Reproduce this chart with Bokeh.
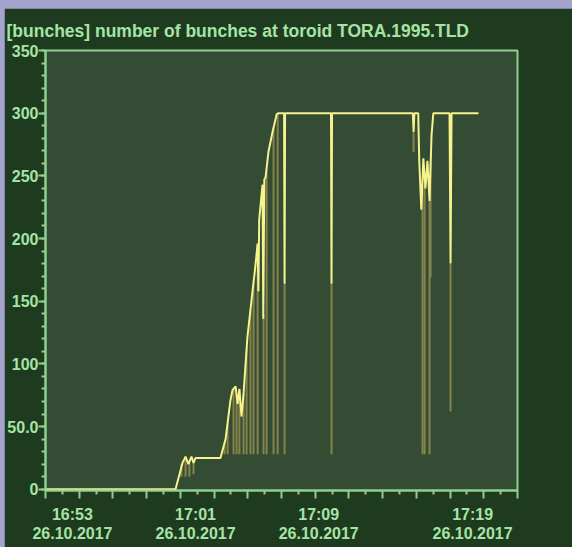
import numpy as np
from bokeh.plotting import figure
from bokeh.models import Range1d, FixedTicker, LinearAxis, Title, CustomJSTickFormatter
from bokeh.layouts import column
from bokeh.embed import file_html
from bokeh.resources import INLINE

# ---------------- data ----------------
line_times = ["16:51:15", "16:59:42", "17:00:09", "17:00:21", "17:00:32", "17:00:44",
              "17:00:52", "17:01:00", "17:02:37", "17:02:57", "17:03:16", "17:03:24",
              "17:03:36", "17:03:44", "17:03:51", "17:03:59", "17:04:07", "17:04:22",
              "17:04:42", "17:04:50", "17:05:02", "17:05:05", "17:05:08", "17:05:21",
              "17:05:24", "17:05:28", "17:05:33", "17:05:44", "17:06:00", "17:06:16",
              "17:06:23", "17:06:45", "17:06:47", "17:06:49", "17:09:48", "17:09:50",
              "17:09:52", "17:15:07", "17:15:10", "17:15:13", "17:15:28", "17:15:32",
              "17:15:40", "17:15:48", "17:15:56", "17:16:04", "17:16:12", "17:16:20",
              "17:16:27", "17:17:30", "17:17:34", "17:17:38", "17:19:23"]
line_values = [0, 0, 21, 26, 20, 26,
               21, 25, 25, 40, 71, 79,
               82, 68, 80, 58, 76, 121,
               158, 172, 196, 158, 215, 243,
               136, 247, 249, 269, 285, 299,
               300, 300, 164, 300, 300, 164,
               300, 300, 285, 300, 300, 262,
               223, 264, 240, 262, 230, 283,
               300, 300, 180, 300, 300]

spike_times = ["17:00:05", "17:00:21", "17:00:36", "17:00:52", "17:02:53", "17:03:05",
               "17:03:28", "17:03:40", "17:03:51", "17:04:07", "17:04:19", "17:04:34",
               "17:04:46", "17:05:02", "17:05:25", "17:05:37", "17:06:04", "17:06:20",
               "17:06:47", "17:09:50", "17:15:10", "17:15:45", "17:15:53", "17:16:12",
               "17:16:16", "17:17:34"]
spike_low = [10, 10, 10, 12, 28, 28,
             28, 28, 28, 28, 28, 28,
             28, 28, 28, 28, 28, 28,
             28, 28, 269, 28, 28, 28,
             169, 62]
spike_high = [20, 26, 22, 21, 37, 52,
              80, 76, 80, 76, 112, 143,
              165, 196, 140, 255, 288, 300,
              164, 164, 285, 240, 250, 230,
              260, 180]

x_label_times = ["16:53", "17:01", "17:09", "17:19"]
x_label_date = "26.10.2017"
y_ticks = [0, 50, 100, 150, 200, 250, 300, 350]
y_tick_labels = ["0", "50.0", "100", "150", "200", "250", "300", "350"]
y_unit = "[bunches]"
title_text = "number of bunches at toroid TORA.1995.TLD"
x_view = ("16:51:15", "17:21:55")


def to_min(s):
    parts = [int(v) for v in s.split(":")]
    while len(parts) < 3:
        parts.append(0)
    return (parts[0] - 16) * 60 + parts[1] + parts[2] / 60.0


lx = [to_min(t) for t in line_times]
sx = [to_min(t) for t in spike_times]
x0, x1 = to_min(x_view[0]), to_min(x_view[1])

FONT = "Liberation Sans"
TXT = "#a6e4a6"
AX = "#8fd08f"
BRIGHT = "#f6f28e"
DIM = "#86844c"

p = figure(width=568, height=539, x_range=Range1d(x0, x1), y_range=Range1d(-1, 350),
           output_backend="svg", toolbar_location=None,
           min_border_left=41, min_border_right=55, min_border_top=40, min_border_bottom=57,
           background_fill_color="#344b34", border_fill_color="#1f3b1f",
           outline_line_color=AX, outline_line_width=2)
p.grid.visible = False
p.margin = (8, 0, 0, 4)

# title: unit + chart name
p.title = Title(text=f"{y_unit}  {title_text}", align="left", offset=-39, standoff=20,
                text_font=FONT, text_font_size="17.5px", text_font_style="bold",
                text_color=TXT)

# x axis: tick marks only
marks = np.linspace(x0, x1, 29)
xa = p.xaxis[0]
xa.ticker = FixedTicker(ticks=list(marks[::2]), minor_ticks=list(marks[1::2]))
xa.formatter = CustomJSTickFormatter(code="return ''")
xa.major_label_text_font_size = "1px"
xa.major_label_standoff = 0
xa.major_tick_out = 8
xa.major_tick_in = 0
xa.minor_tick_out = 4
xa.minor_tick_in = 0
xa.axis_line_color = AX
xa.axis_line_width = 2
xa.major_tick_line_color = AX
xa.major_tick_line_width = 2
xa.minor_tick_line_color = AX
xa.minor_tick_line_width = 2

# x axis: labels
lt = [float(to_min(t)) for t in x_label_times]
xl = LinearAxis(ticker=FixedTicker(ticks=lt, minor_ticks=[]),
                major_label_overrides={v: f"{t}\n{x_label_date}" for v, t in zip(lt, x_label_times)},
                axis_line_color=None, major_tick_line_color=None, minor_tick_line_color=None,
                major_tick_out=0, major_tick_in=0, minor_tick_out=0, minor_tick_in=0,
                major_label_standoff=7,
                major_label_text_font=FONT, major_label_text_font_size="16px",
                major_label_text_font_style="bold", major_label_text_color=TXT,
                major_label_text_line_height=1.15)
p.add_layout(xl, "below")

# y axis
ya = p.yaxis[0]
ya.ticker = FixedTicker(ticks=y_ticks, minor_ticks=list(range(0, 351, 10)))
ya.major_label_overrides = {v: s for v, s in zip(y_ticks, y_tick_labels)}
ya.major_tick_out = 7
ya.major_tick_in = 0
ya.minor_tick_out = 4
ya.minor_tick_in = 0
ya.major_label_standoff = 0
ya.axis_line_color = AX
ya.axis_line_width = 2
ya.major_tick_line_color = AX
ya.major_tick_line_width = 2
ya.minor_tick_line_color = AX
ya.minor_tick_line_width = 2
ya.major_label_text_font = FONT
ya.major_label_text_font_size = "16px"
ya.major_label_text_font_style = "bold"
ya.major_label_text_color = TXT

# data
p.segment(x0=sx, y0=spike_low, x1=sx, y1=spike_high, line_color=DIM, line_width=2)
p.line(lx, line_values, line_color=BRIGHT, line_width=2)

root = column(p, styles={"background-color": "#a4a4cc"})
open("out.html", "w").write(file_html(root, INLINE))
